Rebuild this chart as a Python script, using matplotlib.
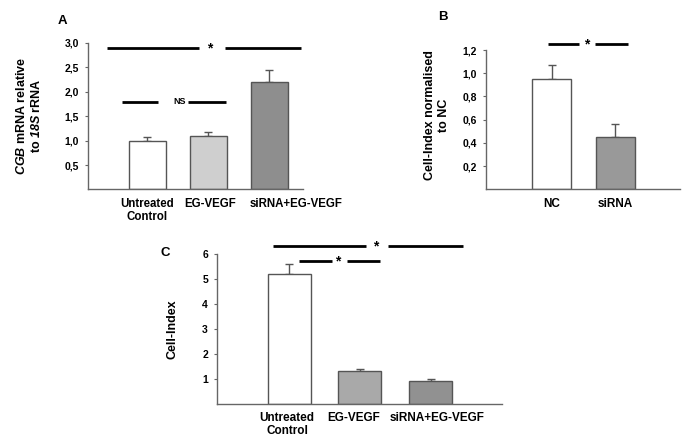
import numpy as np
import matplotlib
matplotlib.use("Agg")
import matplotlib.pyplot as plt

plt.rcParams['font.family'] = ['Liberation Sans', 'DejaVu Sans']
plt.rcParams['font.weight'] = 'bold'
plt.rcParams['mathtext.fontset'] = 'custom'
plt.rcParams['mathtext.bfit'] = 'Liberation Sans:italic:bold'
plt.rcParams['mathtext.it'] = 'Liberation Sans:italic:bold'

# panel A
a_labels = ["Untreated\nControl", "EG-VEGF", "siRNA+EG-VEGF"]
a_label_pos = [0.0, 1.02, 2.43]
a_values = [1.0, 1.10, 2.19]
a_err = [0.08, 0.08, 0.26]
a_colors = ["white", "#cfcfcf", "#8e8e8e"]
a_ticks = [0.5, 1.0, 1.5, 2.0, 2.5, 3.0]
a_ticklabels = ["0,5", "1,0", "1,5", "2,0", "2,5", "3,0"]

# panel B
b_labels = ["NC", "siRNA"]
b_label_pos = [0.0, 1.0]
b_values = [0.95, 0.45]
b_err = [0.12, 0.11]
b_colors = ["white", "#999999"]
b_ticks = [0.2, 0.4, 0.6, 0.8, 1.0, 1.2]
b_ticklabels = ["0,2", "0,4", "0,6", "0,8", "1,0", "1,2"]

# panel C
c_labels = ["Untreated\nControl", "EG-VEGF", "siRNA+EG-VEGF"]
c_label_pos = [-0.03, 0.91, 2.09]
c_values = [5.2, 1.32, 0.92]
c_err = [0.42, 0.08, 0.08]
c_colors = ["white", "#a9a9a9", "#919191"]
c_ticks = [1, 2, 3, 4, 5, 6]
c_ticklabels = ["1", "2", "3", "4", "5", "6"]

W, H = 693, 444
fig = plt.figure(figsize=(W / 100, H / 100), dpi=100)


def px_axes(x0, x1, ytop, ybot):
    return fig.add_axes([x0 / W, 1 - ybot / H, (x1 - x0) / W, (ybot - ytop) / H])


def style(ax, ticks, ticklabels, ytop, xl, labels, label_pos, fs=8.5):
    for s in ["top", "right"]:
        ax.spines[s].set_visible(False)
    for s in ["left", "bottom"]:
        ax.spines[s].set_color("#666666")
        ax.spines[s].set_linewidth(1.0)
    ax.spines["left"].set_bounds(0, ytop)
    ax.set_ylim(0, ytop)
    ax.set_xlim(*xl)
    ax.set_yticks(ticks)
    ax.set_yticklabels(ticklabels, fontsize=7.5, fontweight="bold")
    ax.tick_params(axis="y", direction="out", length=2.5, width=0.8, color="#666666", pad=4)
    ax.set_xticks(label_pos)
    ax.set_xticklabels(labels, fontsize=fs, fontweight="bold", linespacing=1.1)
    ax.tick_params(axis="x", length=0, pad=6)
    ax.patch.set_visible(False)


def bars(ax, values, err, colors, width):
    x = np.arange(len(values))
    ax.bar(x, values, width=width, color=colors, edgecolor="#555555", linewidth=1.0, zorder=2)
    ax.errorbar(x, values, yerr=[np.zeros(len(err)), err], fmt="none", ecolor="#555555",
                elinewidth=1.0, capsize=3, capthick=1.0, zorder=1)


def sig(ax, x0, x1, xs, x2, x3, y, text, fs=9):
    ax.plot([x0, x1], [y, y], color="black", lw=2, clip_on=False, solid_capstyle="butt")
    ax.plot([x2, x3], [y, y], color="black", lw=2, clip_on=False, solid_capstyle="butt")
    ax.text(xs, y, text, ha="center", va="center", fontsize=fs, fontweight="bold", clip_on=False)


# ---- A
axA = px_axes(88, 303, 42.7, 189.5)
bars(axA, a_values, a_err, a_colors, 0.6)
style(axA, a_ticks, a_ticklabels, 3.0, (-0.975, 2.55), a_labels, a_label_pos, 8.3)
sig(axA, -0.66, 0.84, 1.02, 1.27, 2.51, 2.89, "*", 10)
sig(axA, -0.42, 0.17, 0.52, 0.66, 1.29, 1.79, "NS", 6.5)
fig.text(29 / W, 1 - 116 / H, r"$\mathbfit{CGB}$ mRNA relative" + "\n" + r"to $\mathbfit{18S}$ rRNA",
         rotation=90, ha="center", va="center", fontsize=9, fontweight="bold", linespacing=1.15)
fig.text(62 / W, 1 - 21 / H, "A", ha="center", va="center", fontsize=9.5, fontweight="bold")

# ---- B
axB = px_axes(486, 680, 50, 189.2)
bars(axB, b_values, b_err, b_colors, 0.61)
style(axB, b_ticks, b_ticklabels, 1.2, (-1.03, 2.02), b_labels, b_label_pos)
sig(axB, -0.055, 0.43, 0.56, 0.69, 1.21, 1.25, "*", 10)
fig.text(437 / W, 1 - 115 / H, "Cell-Index normalised\nto NC", rotation=90, ha="center",
         va="center", fontsize=9, fontweight="bold", linespacing=1.15)
fig.text(443 / W, 1 - 17 / H, "B", ha="center", va="center", fontsize=9.5, fontweight="bold")

# ---- C
axC = px_axes(217, 502, 254, 404)
bars(axC, c_values, c_err, c_colors, 0.61)
style(axC, c_ticks, c_ticklabels, 6, (-1.02, 3.01), c_labels, c_label_pos)
sig(axC, -0.23, 1.09, 1.22, 1.40, 2.46, 6.32, "*", 10)
sig(axC, 0.14, 0.61, 0.68, 0.82, 1.29, 5.72, "*", 10)
fig.text(172 / W, 1 - 329 / H, "Cell-Index", rotation=90, ha="center", va="center",
         fontsize=9, fontweight="bold")
fig.text(165 / W, 1 - 253 / H, "C", ha="center", va="center", fontsize=9.5, fontweight="bold")

fig.savefig("out.png", dpi=100, facecolor="white")
